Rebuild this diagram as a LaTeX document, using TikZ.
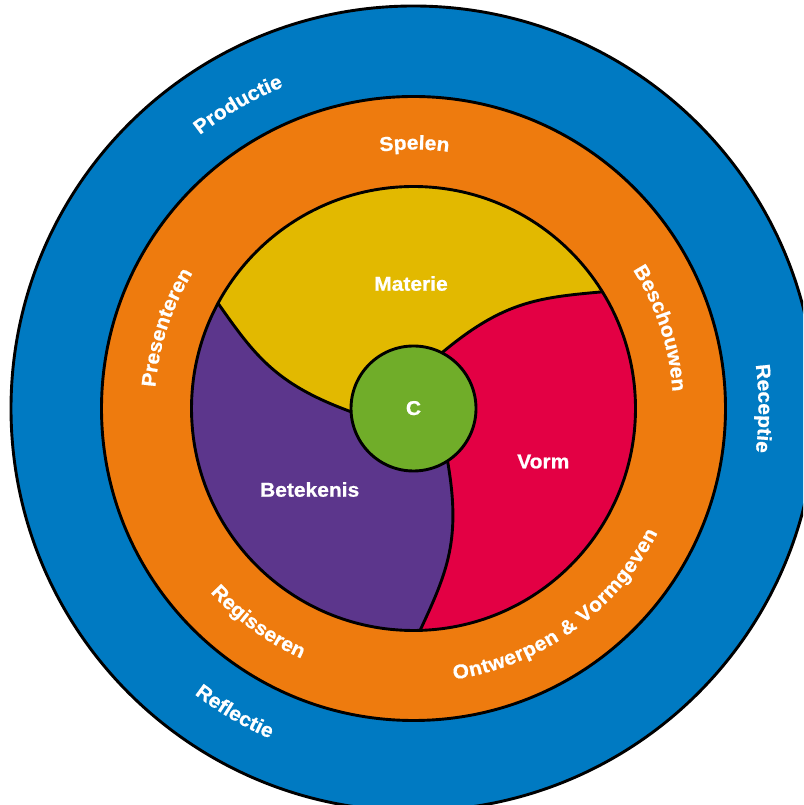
\documentclass[tikz,border=0pt]{standalone}
\usepackage{fontspec}
\setmainfont{Liberation Sans}
\newfontfamily\lblfam{Liberation Sans}[FakeStretch=1.05, BoldFeatures={FakeBold=0.8}]
\usetikzlibrary{decorations.text}
\definecolor{ringblue}{RGB}{0,122,194}
\definecolor{ringorange}{RGB}{238,123,14}
\definecolor{segyellow}{RGB}{226,185,0}
\definecolor{segpurple}{RGB}{92,54,140}
\definecolor{segred}{RGB}{227,0,68}
\definecolor{coregreen}{RGB}{112,173,41}
\newcommand\lblfmt{\lblfam\bfseries\fontsize{20}{22}\selectfont\color{white}}
\tikzset{
  ringline/.style={draw=black, line width=2.9pt},
  lab/.style={font=\lblfmt, text=white, anchor=base, inner sep=0pt},
  curvlab/.style={decorate, decoration={text along path, text align=center, text={|\lblfmt|#1}}},
  fitlab/.style={decorate, decoration={text along path, text align=fit to path, text={|\lblfmt|#1}}},
}
\begin{document}
\begin{tikzpicture}[x=1pt,y=1pt]
\useasboundingbox (0,0) rectangle (803,805);
\clip (0,0) rectangle (803,805);
\begin{scope}[shift={(413.5,396.5)}]
  % outer rings
  \fill[ringblue] (0,0) circle[radius=402.5pt];
  \draw[ringline] (0,0) circle[radius=402.5pt];
  \fill[ringorange] (0,0) circle[radius=312pt];
  \draw[ringline] (0,0) circle[radius=312pt];
  % three segments
  \foreach \ang/\col in {0/segyellow,120/segpurple,240/segred}{
    \fill[\col, rotate=\ang] (31.7:222) arc[start angle=31.7, end angle=151.7, radius=222pt]
      .. controls (161.83:166.4) and (170.06:139.1) .. (183:62.5) -- (0,0) -- (63:62.5)
      .. controls (50.06:139.1) and (41.83:166.4) .. (31.7:222) -- cycle;
  }
  \draw[ringline] (0,0) circle[radius=222pt];
  \foreach \ang in {0,120,240}{
    \draw[ringline, rotate=\ang] (151.7:222) .. controls (161.83:166.4) and (170.06:139.1) .. (183:62.5);
  }
  % core
  \fill[coregreen] (0,0) circle[radius=62.5pt];
  \draw[ringline] (0,0) circle[radius=62.5pt];
  % straight labels
  \node[lab] (core) at (0,-6.5) {C};
  \node[lab] (materie) at (-2.5,117.8) {Materie};
  \node[lab] (betekenis) at (-103.8,-88.2) {Betekenis};
  \node[lab] (vorm) at (129.8,-59.8) {Vorm};
  % curved labels, orange ring
  \path[curvlab=Spelen] (129.8:259) arc[start angle=129.8, end angle=49.8, radius=259pt];
  \path[curvlab=Presenteren] (201.9:259) arc[start angle=201.9, end angle=121.9, radius=259pt];
  \path[curvlab=Beschouwen] (58:259.5) arc[start angle=58, end angle=-22, radius=259.5pt];
  \path[curvlab=Regisseren] (194:274) arc[start angle=194, end angle=274, radius=274pt];
  \path[fitlab={Ontwerpen {\&} Vormgeven}] (278.5:274) arc[start angle=278.5, end angle=333, radius=274pt];
  % curved labels, blue ring
  \path[curvlab=Productie] (160:347) arc[start angle=160, end angle=80, radius=347pt];
  \path[curvlab=Receptie] (40:345) arc[start angle=40, end angle=-40, radius=345pt];
  \path[curvlab=Reflectie] (199.5:360) arc[start angle=199.5, end angle=279.5, radius=360pt];
\end{scope}
\end{tikzpicture}
\end{document}
